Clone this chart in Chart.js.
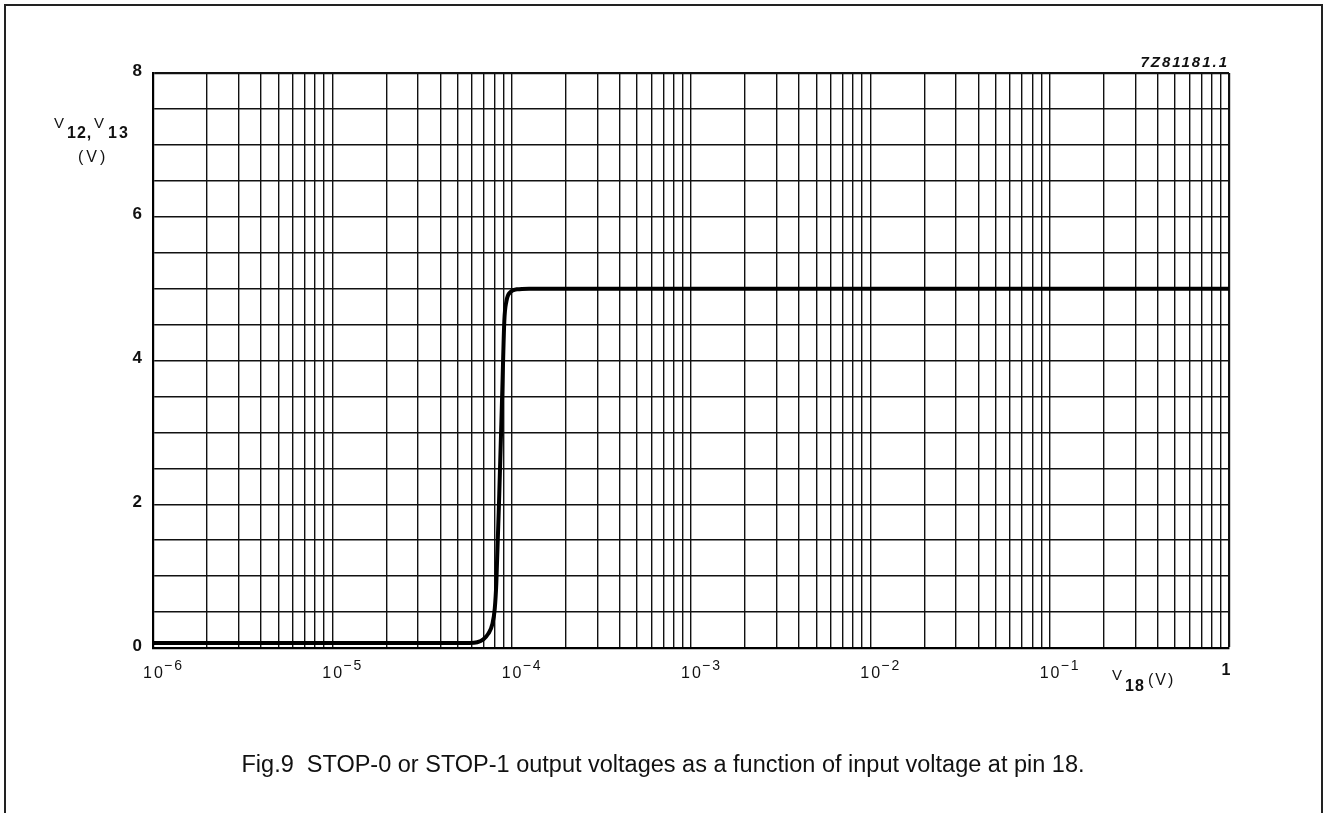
<!DOCTYPE html>
<html>
<head>
<meta charset="utf-8">
<script src="https://cdn.jsdelivr.net/npm/chart.js@4.4.1/dist/chart.umd.min.js"></script>
<style>
  html, body { margin: 0; padding: 0; background: #fff; }
  canvas { display: block; }
</style>
</head>
<body>
<canvas id="fig9" width="1326" height="813"></canvas>
<script>
// input voltage at pin 18 (V) and output voltage V12/V13 (V)
const inputVoltage = [1e-6, 5.81e-5, 6.43e-5, 6.95e-5, 7.41e-5, 7.80e-5, 8.05e-5, 8.21e-5, 8.53e-5, 8.87e-5, 9.10e-5, 9.34e-5, 9.82e-5, 1.07e-4, 1.25e-4, 1];
const outputVoltage = [0.07, 0.07, 0.08, 0.12, 0.2, 0.33, 0.55, 0.9, 2.15, 3.6, 4.55, 4.82, 4.95, 4.99, 5.0, 5.0];

// log grid: decades on x, mantissas inside each decade
const decadeExponents = [-6, -5, -4, -3, -2, -1];
const gridMantissas = [1, 2, 3, 4, 5, 6, 7, 8, 9];
const yLabelValues = [0, 2, 4, 6, 8];

const xGridValues = [];
decadeExponents.forEach(e => {
    gridMantissas.forEach(m => xGridValues.push(m * Math.pow(10, e)));
});
xGridValues.push(1);

const FONT = '"Liberation Sans", Arial, Helvetica, sans-serif';

function spaced(ctx, px) {
    if ('letterSpacing' in ctx) ctx.letterSpacing = px + 'px';
}

const labelsPlugin = {
    id: 'figureText',
    beforeDraw(chart) {
        const ctx = chart.ctx;
        ctx.save();
        ctx.fillStyle = '#fff';
        ctx.fillRect(0, 0, chart.width, chart.height);
        // page frame
        ctx.strokeStyle = '#222';
        ctx.lineWidth = 2;
        ctx.beginPath();
        ctx.moveTo(5, chart.height + 5);
        ctx.lineTo(5, 5);
        ctx.lineTo(1322, 5);
        ctx.lineTo(1322, chart.height + 5);
        ctx.stroke();
        ctx.restore();
    },
    afterDraw(chart) {
        const ctx = chart.ctx;
        const x = chart.scales.x;
        const y = chart.scales.y;
        ctx.save();
        ctx.fillStyle = '#111';

        // y tick labels
        spaced(ctx, 0);
        ctx.font = 'bold 17px ' + FONT;
        ctx.textAlign = 'right';
        ctx.textBaseline = 'middle';
        yLabelValues.forEach(v => {
            ctx.fillText(String(v), 142, y.getPixelForValue(v) - 2);
        });

        // x tick labels: 10 with raised exponent
        ctx.textBaseline = 'alphabetic';
        ctx.textAlign = 'left';
        decadeExponents.forEach(e => {
            const px = x.getPixelForValue(Math.pow(10, e));
            ctx.font = '16px ' + FONT;
            spaced(ctx, 2);
            ctx.fillText('10', px - 10, 678);
            ctx.font = '14px ' + FONT;
            ctx.fillText('\u2212' + Math.abs(e), px + 11, 670);
        });
        spaced(ctx, 0);
        ctx.font = 'bold 16px ' + FONT;
        ctx.textAlign = 'center';
        ctx.fillText('1', x.getPixelForValue(1) - 3, 675);

        // x axis title V18 (V)
        ctx.textAlign = 'left';
        ctx.font = '15px ' + FONT;
        ctx.fillText('V', 1112, 680);
        ctx.font = 'bold 16px ' + FONT;
        spaced(ctx, 1);
        ctx.fillText('18', 1125, 691);
        ctx.font = '16px ' + FONT;
        spaced(ctx, 2);
        ctx.fillText('(V)', 1148, 685);

        // y axis title V12, V13 (V)
        spaced(ctx, 0);
        ctx.font = '15px ' + FONT;
        ctx.fillText('V', 54, 128);
        ctx.font = 'bold 16px ' + FONT;
        spaced(ctx, 1);
        ctx.fillText('12,', 67, 138);
        spaced(ctx, 0);
        ctx.font = '15px ' + FONT;
        ctx.fillText('V', 94, 128);
        ctx.font = 'bold 16px ' + FONT;
        spaced(ctx, 2);
        ctx.fillText('13', 108, 138);
        ctx.font = '16px ' + FONT;
        spaced(ctx, 3);
        ctx.fillText('(V)', 78, 162);

        // drawing reference
        ctx.font = 'italic bold 15px ' + FONT;
        spaced(ctx, 2);
        ctx.textAlign = 'right';
        ctx.fillText('7Z81181.1', 1229, 67);

        // caption
        spaced(ctx, 0);
        ctx.font = '23.5px ' + FONT;
        ctx.textAlign = 'center';
        ctx.fillText('Fig.9  STOP-0 or STOP-1 output voltages as a function of input voltage at pin 18.', 663, 772);
        ctx.restore();
    }
};

const points = inputVoltage.map((v, i) => ({ x: v, y: outputVoltage[i] }));

new Chart(document.getElementById('fig9').getContext('2d'), {
    type: 'line',
    data: {
        datasets: [{
            label: 'V12, V13',
            data: points,
            borderColor: '#000',
            borderWidth: 4,
            pointRadius: 0,
            cubicInterpolationMode: 'monotone',
            fill: false,
        }],
    },
    options: {
        responsive: false,
        animation: false,
        events: [],
        layout: {
            padding: { left: 153, right: 97, top: 73, bottom: 165 },
        },
        plugins: {
            legend: { display: false },
            tooltip: { enabled: false },
        },
        scales: {
            x: {
                type: 'logarithmic',
                min: 1e-6,
                max: 1,
                afterBuildTicks: scale => {
                    scale.ticks = xGridValues.map(v => ({ value: v }));
                },
                ticks: { display: false },
                grid: {
                    color: '#111',
                    lineWidth: c => (c.index === xGridValues.length - 1 ? 2.2 : 1.4),
                    drawTicks: false,
                },
                border: { display: true, color: '#000', width: 2.2 },
            },
            y: {
                min: 0,
                max: 8,
                ticks: { display: false, stepSize: 0.5 },
                grid: {
                    color: '#111',
                    lineWidth: c => (c.tick && c.tick.value === 8 ? 2.2 : 1.4),
                    drawTicks: false,
                },
                border: { display: true, color: '#000', width: 2.2 },
            },
        },
    },
    plugins: [labelsPlugin],
});
</script>
</body>
</html>
